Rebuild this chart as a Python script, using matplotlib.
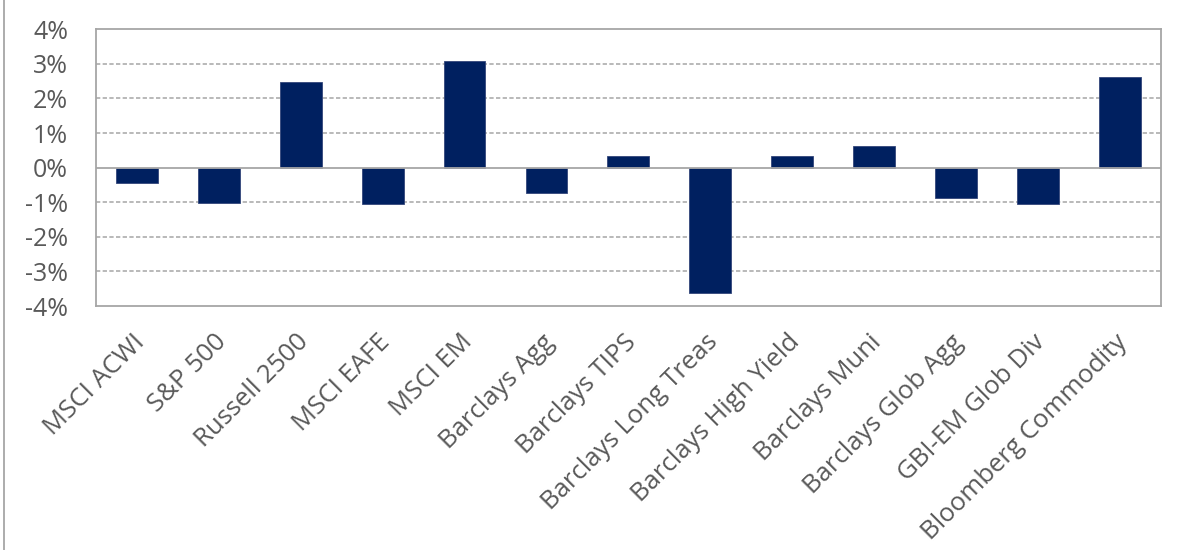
import matplotlib
matplotlib.use("Agg")
import matplotlib.pyplot as plt
from matplotlib.lines import Line2D
from matplotlib.ticker import FuncFormatter
from matplotlib.transforms import ScaledTranslation

categories = ["MSCI ACWI", "S&P 500", "Russell 2500", "MSCI EAFE", "MSCI EM",
              "Barclays Agg", "Barclays TIPS", "Barclays Long Treas",
              "Barclays High Yield", "Barclays Muni", "Barclays Glob Agg",
              "GBI-EM Glob Div", "Bloomberg Commodity"]
values = [-0.44, -1.01, 2.47, -1.06, 3.08, -0.73, 0.35, -3.63, 0.35, 0.64,
          -0.89, -1.06, 2.63]
yticks = [-4, -3, -2, -1, 0, 1, 2, 3, 4]

plt.rcParams['font.family'] = ['Open Sans', 'DejaVu Sans']
plt.rcParams['lines.scale_dashes'] = False

fig = plt.figure(figsize=(11.77, 5.5), dpi=100)
ax = fig.add_axes([96/1177, 1-306/550, (1160.7-96)/1177, (306-29.3)/550])

x = list(range(len(categories)))
ax.bar(x, values, width=0.51, color="#002060", edgecolor="#33467a",
       linewidth=0.6, zorder=3)
ax.set_xlim(-0.5, len(categories) - 0.5)
ax.set_ylim(-4, 4)
ax.set_yticks(yticks)
ax.yaxis.set_major_formatter(FuncFormatter(lambda v, p: f"{int(round(v))}%"))
for t in yticks:
    if t in (-4, 4):
        continue
    if t == 0:
        ax.axhline(0, color="#a6a6a6", lw=1.3, zorder=4)
    else:
        ax.axhline(t, color="#a6a6a6", lw=1.1, dashes=(3.1, 1.7), zorder=1)

ax.set_xticks(x)
ax.set_xticklabels(categories, rotation=45, ha="right", rotation_mode="anchor")
ax.tick_params(axis="x", length=0, pad=17, labelsize=18.5, labelcolor="#595959")
ax.tick_params(axis="y", length=0, pad=20, labelsize=18, labelcolor="#595959")
shift = ScaledTranslation(-5/100, 0, fig.dpi_scale_trans)
for lab in ax.get_xticklabels():
    lab.set_transform(lab.get_transform() + shift)
for s in ax.spines.values():
    s.set_color("#a6a6a6")
    s.set_linewidth(1.3)

fig.add_artist(Line2D([4/1177, 4/1177], [0, 1], transform=fig.transFigure,
                      color="#a6a6a6", lw=1.3))

fig.savefig("out.png", dpi=100)
